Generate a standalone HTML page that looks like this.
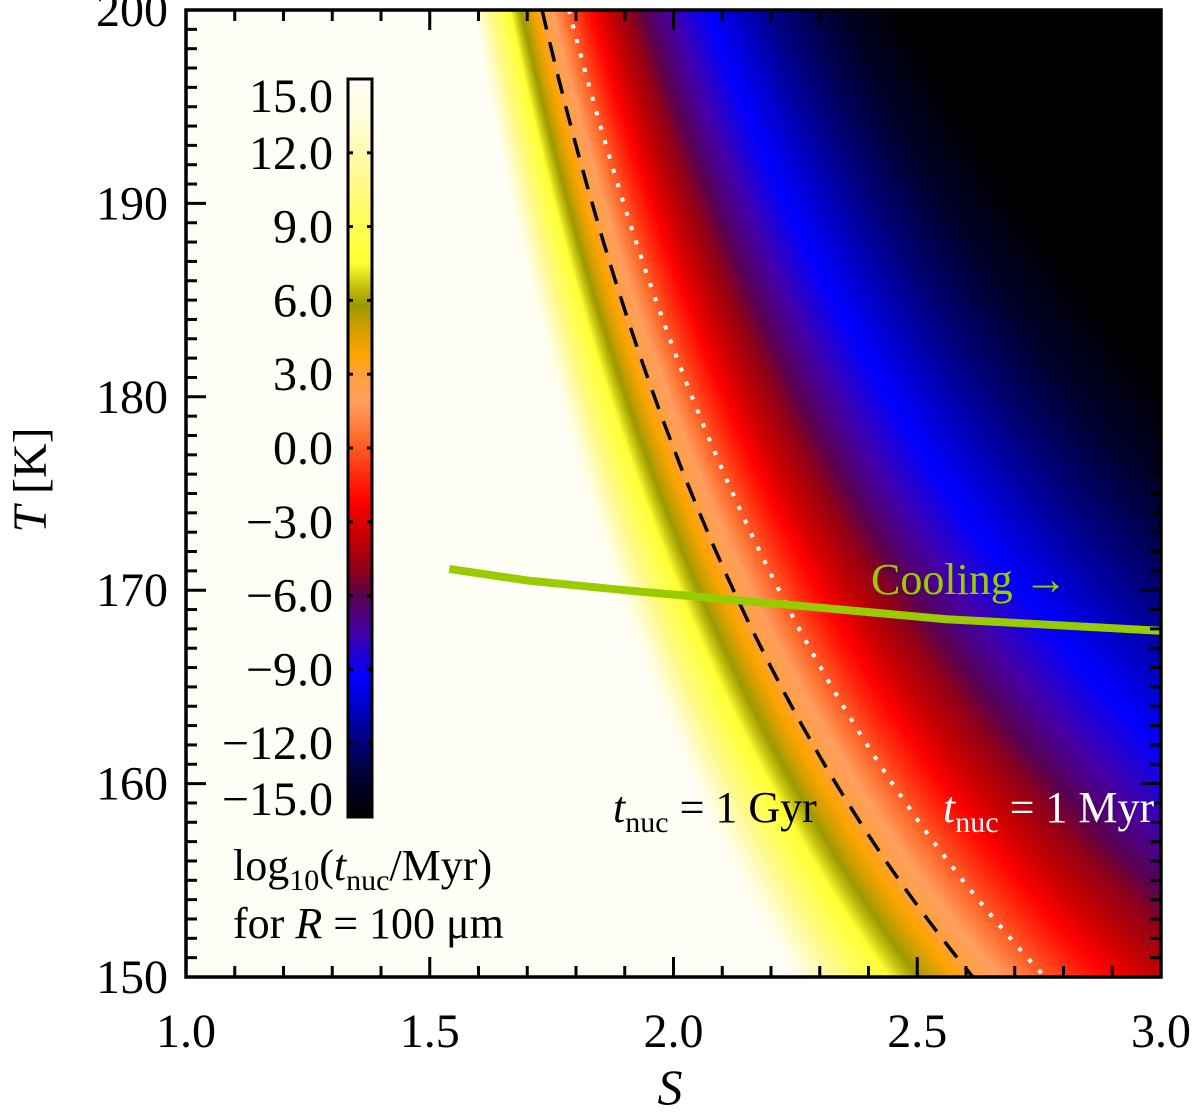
<!DOCTYPE html>
<html><head><meta charset="utf-8"><style>
body{margin:0;background:#fff;}
#wrap{position:relative;width:1200px;height:1114px;overflow:hidden;background:#fff;font-family:"Liberation Serif",serif;}
canvas{position:absolute;left:0;top:0;}
svg{position:absolute;left:0;top:0;}
</style></head><body>
<div id="wrap">
<canvas id="heat" width="1200" height="1114"></canvas>
<svg id="ov" width="1200" height="1114"></svg>
</div>
<script>
// ---- data ----
const xTicks = [1.0, 1.5, 2.0, 2.5, 3.0];
const yTicks = [150, 160, 170, 180, 190, 200];
const cbTicks = [15, 12, 9, 6, 3, 0, -3, -6, -9, -12, -15];
const contourLevels = [3, 0];
const contourStyles = ['dashed', 'dotted'];
const coolingS = [1.54, 1.70, 1.90, 2.21, 2.56, 3.0];
const coolingT = [171.1, 170.5, 170.0, 169.3, 168.5, 167.9];
// model of log10(t_nuc): v = A/u^2 + B, u = ln S * (T/200)^P
const modelA = [8.57];
const modelB = [-25.5];
const modelP = [1.95];
const cmapVals = [15, 13.5, 12, 10.5, 9, 7.5, 6.6, 5.8, 4.8, 3.8, 3, 1.8, 0.5, -1, -2.2, -3.5, -5, -6, -7.5, -9.3, -10.5, -12, -13.5, -15];
const cmapCols = ['#fffef7','#fffde0','#fffbb0','#fffa80','#ffff55','#ffff33','#c8c410','#9c9a00','#d4a000','#ffa500','#ffa040','#ff9f60','#ff7030','#ff3010','#ff0000','#c80000','#900018','#5a0050','#4400a8','#0000ff','#0000c8','#000078','#00002e','#000000'];

// ---- axes ----
const X0 = 186, X1 = 1161, Y0 = 10, Y1 = 977;
const sx = s => X0 + (s - 1) / 2 * (X1 - X0);
const sy = t => Y0 + (200 - t) / 50 * (Y1 - Y0);
const invx = px => 1 + (px - X0) / (X1 - X0) * 2;
const invy = py => 200 - (py - Y0) / (Y1 - Y0) * 50;
const model = (S, T) => { const u = Math.log(S) * Math.pow(T / 200, modelP[0]); return u <= 0 ? 99 : modelA[0] / (u * u) + modelB[0]; };
const hex = h => [parseInt(h.substr(1,2),16), parseInt(h.substr(3,2),16), parseInt(h.substr(5,2),16)];
const cmRGB = cmapCols.map(hex);
function cmap(v) {
  if (v >= cmapVals[0]) return cmRGB[0];
  const n = cmapVals.length;
  if (v <= cmapVals[n-1]) return cmRGB[n-1];
  for (let i = 0; i < n - 1; i++) {
    if (v <= cmapVals[i] && v >= cmapVals[i+1]) {
      const f = (cmapVals[i] - v) / (cmapVals[i] - cmapVals[i+1]);
      return [0,1,2].map(k => cmRGB[i][k] + (cmRGB[i+1][k] - cmRGB[i][k]) * f);
    }
  }
  return cmRGB[n-1];
}
// heatmap
const cv = document.getElementById('heat');
const ctx = cv.getContext('2d');
const W = X1 - X0, H = Y1 - Y0;
const img = ctx.createImageData(W, H);
for (let j = 0; j < H; j++) {
  const T = invy(Y0 + j + 0.5);
  for (let i = 0; i < W; i++) {
    const S = invx(X0 + i + 0.5);
    const c = cmap(model(S, T));
    const p = (j * W + i) * 4;
    img.data[p] = c[0]; img.data[p+1] = c[1]; img.data[p+2] = c[2]; img.data[p+3] = 255;
  }
}
ctx.putImageData(img, X0, Y0);
// colorbar
const CBX0 = 348, CBX1 = 372, CBY0 = 79, CBY1 = 817;
const cby = v => CBY0 + (15 - v) / 30 * (CBY1 - CBY0);
for (let y = CBY0; y < CBY1; y++) {
  const c = cmap(15 - (y - CBY0 + 0.5) / (CBY1 - CBY0) * 30);
  ctx.fillStyle = `rgb(${c[0]|0},${c[1]|0},${c[2]|0})`;
  ctx.fillRect(CBX0, y, CBX1 - CBX0, 1);
}

// ---- svg overlay ----
const NS = 'http://www.w3.org/2000/svg';
const svg = document.getElementById('ov');
function mk(tag, attrs, parent) { const e = document.createElementNS(NS, tag); for (const k in attrs) e.setAttribute(k, attrs[k]); (parent || svg).appendChild(e); return e; }

// contours
contourLevels.forEach((lv, idx) => {
  const pts = [];
  for (let T = 200; T >= 150; T -= 0.5) {
    const u = 1 / Math.sqrt((lv - modelB[0]) / modelA[0]);
    const S = Math.exp(u / Math.pow(T / 200, modelP[0]));
    pts.push(sx(S).toFixed(1) + ',' + sy(T).toFixed(1));
  }
  const dashed = contourStyles[idx] === 'dashed';
  const pl = mk('polyline', {points: pts.join(' '), fill: 'none', stroke: dashed ? '#000' : '#fff', 'stroke-width': dashed ? 3.5 : 4, 'stroke-dasharray': dashed ? '20 13' : '4 11'});
  
  
});
// cooling curve
const cpts = coolingS.map((s, i) => sx(s).toFixed(1) + ',' + sy(coolingT[i]).toFixed(1)).join(' ');
const cool = mk('polyline', {points: cpts, fill: 'none', stroke: '#99cc00', 'stroke-width': 8});



// frame
const frame = mk('rect', {x: X0, y: Y0, width: W, height: H, fill: 'none', stroke: '#000', 'stroke-width': 3.5});


// x ticks
for (let k = 0; k <= 20; k++) {
  const s = 1 + k * 0.1, x = sx(s), len = (k % 5 === 0) ? 20 : 11;
  const t1 = mk('line', {x1: x, x2: x, y1: Y1, y2: Y1 - len, stroke: '#000', 'stroke-width': 3});
   
  const t2 = mk('line', {x1: x, x2: x, y1: Y0, y2: Y0 + len, stroke: '#000', 'stroke-width': 3});
   
}
xTicks.forEach(v => {
  const t = mk('text', {x: sx(v), y: 1047, 'text-anchor': 'middle', 'font-size': 48, 'font-family': 'Liberation Serif, serif'});
  t.textContent = v.toFixed(1);
   
});
// y ticks
for (let T = 150; T <= 200; T++) {
  const y = sy(T), len = (T % 10 === 0) ? 20 : 11;
  const t1 = mk('line', {x1: X0, x2: X0 + len, y1: y, y2: y, stroke: '#000', 'stroke-width': 3});
   
  const t2 = mk('line', {x1: X1, x2: X1 - len, y1: y, y2: y, stroke: '#000', 'stroke-width': 3});
   
}
yTicks.forEach(v => {
  const t = mk('text', {x: 168, y: sy(v) + 16, 'text-anchor': 'end', 'font-size': 48, 'font-family': 'Liberation Serif, serif'});
  t.textContent = v;
   
});
// colorbar frame/ticks/labels
const cbf = mk('rect', {x: CBX0, y: CBY0, width: CBX1 - CBX0, height: CBY1 - CBY0, fill: 'none', stroke: '#000', 'stroke-width': 3});
 
cbTicks.forEach(v => {
  const y = cby(v);
  const a = mk('line', {x1: CBX0, x2: CBX0 + 5, y1: y, y2: y, stroke: '#000', 'stroke-width': 3});
   
  const b = mk('line', {x1: CBX1, x2: CBX1 - 5, y1: y, y2: y, stroke: '#000', 'stroke-width': 3});
   
  let ly = y + 16;
  if (v === 15) ly = 112;
  if (v === -15) ly = 815;
  const t = mk('text', {x: 333, y: ly, 'text-anchor': 'end', 'font-size': 48, 'font-family': 'Liberation Serif, serif'});
  t.textContent = (v < 0 ? '\u2212' + Math.abs(v).toFixed(1) : v.toFixed(1));
   
});
</script>
<svg width="1200" height="1114" style="position:absolute;left:0;top:0" font-family="Liberation Serif, serif">
  <text x="670" y="1104" font-size="50" font-style="italic" text-anchor="middle">S</text>
  <text transform="translate(46,480) rotate(-90)" font-size="48" text-anchor="middle"><tspan font-style="italic">T</tspan> [K]</text>
  <text x="871" y="594" font-size="44" fill="#99cc00">Cooling →</text>
  <text x="613" y="822" font-size="44" fill="#000"><tspan font-style="italic">t</tspan><tspan font-size="30" dy="10">nuc</tspan><tspan dy="-10"> = 1 Gyr</tspan></text>
  <text x="943" y="822" font-size="44" fill="#fff"><tspan font-style="italic">t</tspan><tspan font-size="30" dy="10">nuc</tspan><tspan dy="-10"> = 1 Myr</tspan></text>
  <text x="233" y="880" font-size="44">log<tspan font-size="30" dy="10">10</tspan><tspan dy="-10">(</tspan><tspan font-style="italic">t</tspan><tspan font-size="30" dy="10">nuc</tspan><tspan dy="-10">/Myr)</tspan></text>
  <text x="233" y="938" font-size="44">for <tspan font-style="italic">R</tspan> = 100 μm</text>
</svg>
</body></html>
